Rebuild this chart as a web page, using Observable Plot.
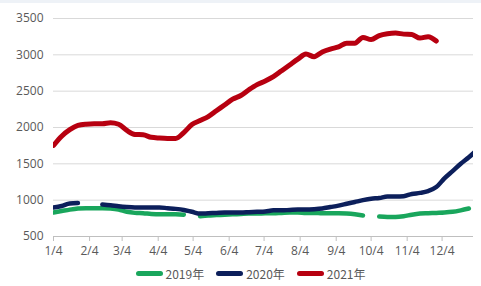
<!DOCTYPE html>
<html><head><meta charset="utf-8">
<script src="https://cdn.jsdelivr.net/npm/d3@7"></script>
<script src="https://cdn.jsdelivr.net/npm/@observablehq/plot@0.6"></script>
<style>
body{margin:0;background:#fff;width:481px;height:286px;overflow:hidden;font-family:"Noto Sans CJK SC","Open Sans",sans-serif;}
#wrap{border-top:3px solid #eef2f7;}
#legend{display:flex;justify-content:center;align-items:center;height:26px;font-size:12px;color:#595959;transform:translateX(10px);}
.item{display:flex;align-items:center;margin:0 6px;}
.sw{width:27px;height:5px;border-radius:3px;margin-right:3px;}
</style></head><body>
<div id="wrap"><div id="chart"></div><div id="legend"></div></div>
<script>
const seriesNames = ["2019年", "2020年", "2021年"];
const colors = ["#19a65c", "#0c1f5b", "#b70010"];
const s2019 = [830,850,870,885,890,890,890,885,870,840,825,820,810,805,805,805,800,null,780,790,795,800,805,810,815,815,820,820,825,830,830,825,825,820,820,820,815,805,790,null,775,770,770,780,800,815,820,825,830,840,860,885];
const s2020 = [900,920,955,960,null,null,940,930,915,905,900,900,900,900,890,880,865,840,815,820,825,830,830,830,835,840,845,860,860,865,870,870,875,885,905,925,950,975,1000,1020,1030,1050,1050,1055,1085,1100,1125,1180,1300,1400,1500,1590,1690];
const s2021 = [1753,1880,1970,2028,2045,2050,2050,2065,2045,1960,1905,1900,1865,1855,1850,1850,1930,2040,2095,2150,2230,2310,2390,2440,2520,2590,2640,2700,2780,2860,2940,3010,2975,3040,3080,3110,3160,3160,3240,3210,3265,3290,3300,3285,3280,3230,3250,3190];
const yTicks = [500,1000,1500,2000,2500,3000,3500];
const xTickLabels = ["1/4","2/4","3/4","4/4","5/4","6/4","7/4","8/4","9/4","10/4","11/4","12/4"];

const start = new Date(Date.UTC(2021,0,4));
const end = new Date(Date.UTC(2021,11,31));
const toRows = (vals) => vals.map((v,i)=>({date:d3.utcDay.offset(start,7*i), value:v}));
const monthTicks = xTickLabels.map((_,i)=>new Date(Date.UTC(2021,i,4)));
const all = [s2019,s2020,s2021].map(toRows);

const chart = Plot.plot({
  width:481, height:257,
  marginTop:15, marginBottom:24, marginLeft:53, marginRight:8,
  style:{fontSize:"12px", fontFamily:"'Open Sans','Noto Sans CJK SC',sans-serif", color:"#595959", background:"transparent"},
  x:{type:"utc", domain:[start,end]},
  y:{domain:[500,3500]},
  marks:[
    Plot.gridY(yTicks,{stroke:"#d9d9d9", strokeOpacity:1}),
    Plot.ruleY([500],{stroke:"#bfbfbf"}),
    Plot.axisY({ticks:yTicks, tickFormat:d=>String(d), tickSize:0, tickPadding:10, fill:"#595959", label:null}),
    Plot.axisX({ticks:monthTicks, tickFormat:d=>xTickLabels[d.getUTCMonth()], tickSize:5, tickPadding:5, stroke:"#bfbfbf", fill:"#595959", label:null}),
    ...all.map((rows,k)=>Plot.lineY(rows,{x:"date", y:"value", stroke:colors[k], strokeWidth:k===2?5:4.5, curve:"monotone-x", strokeLinecap:"round", clip:true}))
  ]
});
document.getElementById("chart").append(chart);
const lg = document.getElementById("legend");
seriesNames.forEach((n,k)=>{
  const it=document.createElement("div"); it.className="item";
  it.innerHTML=`<span class="sw" style="background:${colors[k]}"></span><span>${n}</span>`;
  lg.append(it);
});
</script></body></html>
